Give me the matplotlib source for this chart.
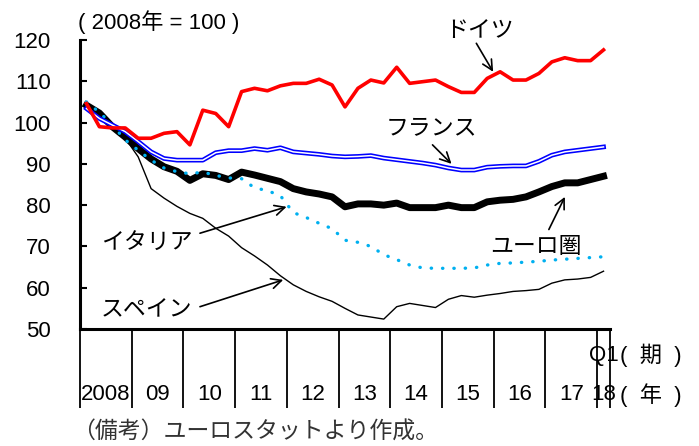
import matplotlib
matplotlib.use("Agg")
import matplotlib.pyplot as plt

plt.rcParams['font.family'] = ['Liberation Sans', 'Noto Sans CJK JP', 'DejaVu Sans']

# quarterly index, 2008Q1 .. 2018Q1 (2008 = 100)
germany = [104.6, 99.0, 98.7, 98.7, 96.2, 96.2, 97.4, 97.8, 94.6, 103.0,
           102.2, 99.0, 107.5, 108.3, 107.7, 108.9, 109.5, 109.5, 110.5, 109.1,
           103.8, 108.3, 110.3, 109.6, 113.4, 109.5, 109.9, 110.3, 108.7, 107.3,
           107.3, 110.7, 112.3, 110.3, 110.3, 111.9, 114.7, 115.7, 115.0, 115.0,
           117.6]
france = [103.4, 101.0, 99.4, 97.8, 95.4, 92.9, 91.3, 90.9, 90.9, 90.9,
          92.7, 93.2, 93.2, 93.7, 93.3, 93.9, 92.9, 92.6, 92.3, 91.9,
          91.7, 91.8, 92.0, 91.4, 91.0, 90.6, 90.2, 89.7, 89.0, 88.5,
          88.5, 89.2, 89.4, 89.5, 89.5, 90.6, 92.1, 92.9, 93.3, 93.7,
          94.1]
euro_area = [104.2, 102.3, 99.0, 96.5, 93.7, 91.2, 89.3, 88.2, 86.0, 87.6,
             87.2, 86.2, 88.0, 87.3, 86.5, 85.7, 84.0, 83.2, 82.7, 82.0,
             79.6, 80.3, 80.3, 80.0, 80.5, 79.4, 79.4, 79.4, 80.0, 79.4,
             79.4, 80.8, 81.2, 81.4, 82.0, 83.2, 84.5, 85.4, 85.4, 86.2,
             87.0]
italy = [105.0, 102.5, 99.4, 95.8, 93.3, 90.9, 89.0, 88.1, 87.6, 88.0,
         87.2, 86.6, 86.4, 84.2, 83.5, 82.3, 78.2, 77.0, 75.6, 74.3,
         71.5, 71.0, 70.0, 68.0, 66.8, 65.5, 64.8, 64.7, 64.7, 64.7,
         64.8, 65.5, 65.9, 66.0, 66.2, 66.4, 66.7, 66.9, 67.1, 67.3,
         67.5]
spain = [104.0, 101.5, 99.0, 96.2, 91.7, 84.0, 81.7, 79.7, 78.0, 76.8,
         74.4, 72.5, 69.7, 67.7, 65.5, 62.9, 60.7, 59.1, 57.8, 56.7,
         55.0, 53.4, 52.9, 52.4, 55.4, 56.2, 55.7, 55.2, 57.2, 58.1,
         57.7, 58.2, 58.6, 59.1, 59.3, 59.6, 61.1, 61.9, 62.1, 62.5,
         64.0]
year_labels = ["2008", "09", "10", "11", "12", "13", "14", "15", "16", "17"]

x = list(range(len(germany)))

fig = plt.figure(figsize=(6.99, 4.46), dpi=100)
ax = fig.add_axes([80 / 699, 1 - 329 / 446, 530 / 699, 289 / 446])

ax.plot(x, spain, color='black', lw=1.0, zorder=2)
ax.plot(x, euro_area, color='black', lw=5.0, solid_joinstyle='round', zorder=3)
ax.plot(x, italy, color='#00b0f0', lw=2.4, linestyle=(0, (0.1, 3.3)),
        dash_capstyle='round', zorder=4)
ax.plot(x, france, color='#0000ff', lw=3.4, zorder=5)
ax.plot(x, france, color='white', lw=1.1, zorder=6)
ax.plot(x, germany, color='#ff0000', lw=2.6, zorder=7)

ax.set_xlim(-0.5, 40.5)
ax.set_ylim(50, 120)
ax.set_yticks(range(50, 121, 10))
ax.set_xticks([])
ax.tick_params(axis='y', direction='in', length=5, width=1.5, pad=21, labelsize=16)
for s in ['top', 'right']:
    ax.spines[s].set_visible(False)
ax.spines['left'].set_linewidth(2.2)
ax.spines['bottom'].set_linewidth(2.2)

# year separators below the axis
xt = ax.get_xaxis_transform()
bounds = [-0.5 + 4 * k for k in range(11)] + [40.5]
ax.vlines(bounds, -0.273, 0, transform=xt, color='black', lw=1.3, clip_on=False)
for k, lab in enumerate(year_labels):
    ax.text(4 * k + 1.5, -0.228, lab, transform=xt, ha='center', va='center', fontsize=16)
ax.text(40, -0.228, "18", transform=xt, ha='center', va='center', fontsize=16)
ax.text(40, -0.09, "Q1", transform=xt, ha='center', va='center', fontsize=16)
ax.text(41.3, -0.09, "(  期  )", transform=xt, ha='left', va='center', fontsize=16)
ax.text(41.3, -0.228, "(  年  )", transform=xt, ha='left', va='center', fontsize=16)

fig.text(78 / 699, 1 - 22 / 446, "( 2008年 = 100 )", ha='left', va='center', fontsize=16)

# series labels and arrows
arrow = dict(arrowstyle='->', color='black', lw=1.2, mutation_scale=18, shrinkA=0, shrinkB=0)
labels = [
    ("ドイツ", (30.43, 122.4), (30.16, 119.2), (31.46, 112.3)),
    ("フランス", (26.65, 98.7), (26.77, 94.6), (28.24, 90.0)),
    ("イタリア", (4.64, 70.8), (8.78, 73.2), (15.48, 79.6)),
    ("スペイン", (4.64, 54.6), (8.78, 55.4), (15.22, 61.9)),
    ("ユーロ圏", (34.76, 69.9), (35.77, 74.1), (37.01, 82.0)),
]
for text, tpos, tail, head in labels:
    ax.text(tpos[0], tpos[1], text, ha='center', va='center', fontsize=16.5,
            family=['Noto Sans CJK JP'], clip_on=False)
    ax.annotate('', xy=head, xytext=tail, arrowprops=arrow, annotation_clip=False)

fig.text(72 / 699, 1 - 432 / 446, "（備考）ユーロスタットより作成。", ha='left', va='center',
         fontsize=16.5, color='#333333', family=['Noto Sans CJK JP'])

fig.savefig("out.png", dpi=100)
